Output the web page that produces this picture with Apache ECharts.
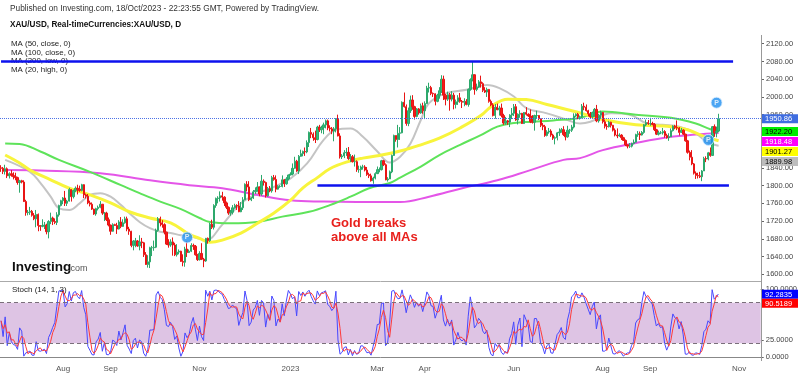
<!DOCTYPE html>
<html>
<head>
<meta charset="utf-8">
<script src="https://cdn.jsdelivr.net/npm/echarts@6/dist/echarts.min.js"></script>
<style>
  html, body { margin: 0; padding: 0; background: #fff; }
  #chart { width: 800px; height: 376px; }
</style>
</head>
<body>
<div id="chart"></div>
<script>
// XAU/USD daily, weekdays from 20 Jun 2022 to 18 Oct 2023 (one line = one week)
const firstOpen = 1840;
const closes = [
  1839,1832,1838,1822,1827, 1823,1820,1818,1807,1811, 1808,1764,1739,1740,1742, 1733,1725,1735,1710,1708,
  1710,1711,1696,1719,1727, 1719,1717,1734,1755,1766, 1772,1760,1765,1791,1775, 1789,1794,1792,1789,1802,
  1779,1776,1761,1758,1747, 1736,1748,1751,1758,1738, 1738,1723,1711,1697,1712, 1710,1702,1718,1708,1716,
  1725,1702,1697,1665,1675, 1675,1664,1673,1671,1644, 1622,1628,1660,1660,1661, 1699,1725,1716,1712,1695,
  1668,1666,1673,1666,1644, 1650,1652,1629,1627,1657, 1649,1652,1665,1663,1644, 1633,1647,1634,1630,1681,
  1676,1713,1706,1755,1771, 1772,1777,1774,1761,1751, 1738,1740,1750,1755,1754, 1741,1750,1768,1803,1797,
  1768,1772,1786,1789,1797, 1781,1810,1807,1777,1793, 1788,1818,1814,1792,1798, 1798,1813,1804,1815,1824,
  1826,1839,1855,1833,1866, 1872,1877,1876,1897,1920, 1916,1908,1904,1932,1926, 1931,1937,1946,1930,1928,
  1923,1928,1950,1912,1865, 1867,1874,1875,1861,1865, 1854,1854,1836,1836,1842, 1842,1835,1825,1822,1811,
  1817,1827,1836,1836,1856, 1847,1813,1815,1831,1868, 1913,1904,1918,1919,1988, 1978,1940,1969,1993,1978,
  1956,1973,1964,1980,1969, 1985,2020,2021,2008,2007, 1990,2004,2014,2040,2004, 1995,2005,1995,2004,1983,
  1989,1998,1990,1988,1990, 1983,2017,2039,2050,2017, 2022,2034,2030,2015,2011, 2017,1990,1982,1958,1977,
  1971,1975,1958,1941,1946, 1943,1959,1963,1978,1948, 1961,1963,1940,1965,1961, 1957,1944,1943,1958,1958,
  1951,1936,1933,1913,1921, 1923,1914,1907,1908,1919, 1921,1926,1915,1910,1925, 1925,1932,1957,1961,1955,
  1955,1979,1977,1969,1962, 1955,1965,1972,1946,1959, 1965,1944,1934,1933,1943, 1936,1925,1914,1912,1914,
  1908,1902,1892,1889,1889, 1895,1898,1915,1917,1914, 1920,1937,1942,1940,1940, 1938,1926,1916,1919,1919,
  1922,1913,1908,1910,1924, 1934,1931,1930,1920,1925, 1916,1901,1875,1864,1849, 1828,1823,1822,1820,1833,
  1861,1860,1874,1868,1933, 1919,1923,1951
];
const lows = [
  1831,1826,1825,1817,1816, 1820,1814,1812,1802,1784, 1805,1763,1732,1733,1734, 1730,1722,1706,1697,1698,
  1706,1702,1690,1681,1713, 1711,1713,1711,1730,1753, 1758,1754,1754,1764,1764, 1771,1785,1780,1786,1787,
  1772,1771,1758,1753,1745, 1734,1732,1744,1749,1734, 1720,1720,1708,1689,1696, 1709,1691,1701,1704,1707,
  1714,1697,1689,1661,1654, 1661,1662,1654,1659,1639, 1621,1615,1614,1641,1653, 1659,1696,1708,1705,1690,
  1666,1660,1662,1642,1641, 1640,1645,1628,1618,1617, 1639,1648,1650,1655,1642, 1630,1631,1632,1616,1628,
  1669,1673,1702,1701,1750, 1760,1764,1766,1754,1747, 1734,1732,1735,1748,1745, 1740,1740,1745,1767,1787,
  1765,1765,1770,1781,1786, 1776,1777,1800,1773,1775, 1785,1784,1811,1785,1791, 1795,1796,1797,1802,1812,
  1823,1823,1838,1831,1826, 1865,1866,1867,1873,1887, 1907,1901,1896,1902,1921, 1918,1916,1929,1925,1922,
  1916,1900,1920,1911,1861, 1860,1862,1867,1858,1853, 1852,1843,1831,1829,1819, 1836,1832,1822,1817,1809,
  1804,1814,1826,1830,1834, 1844,1812,1809,1815,1828, 1867,1899,1886,1903,1918, 1976,1935,1934,1964,1971,
  1949,1954,1960,1962,1962, 1950,1984,2010,2004,2000, 1981,1988,1996,2009,1993, 1981,1991,1969,1990,1972,
  1974,1982,1987,1975,1979, 1981,1978,2014,2035,2005, 2013,2020,2021,2011,2009, 2000,1987,1979,1956,1951,
  1970,1958,1954,1937,1937, 1937,1932,1950,1957,1946, 1938,1953,1939,1939,1958, 1955,1941,1940,1924,1951,
  1948,1932,1925,1910,1911, 1917,1910,1903,1893,1902, 1912,1920,1912,1902,1908, 1917,1921,1929,1955,1950,
  1949,1952,1970,1967,1956, 1951,1953,1955,1943,1942, 1951,1940,1929,1926,1931, 1931,1922,1911,1907,1910,
  1903,1901,1889,1884,1885, 1886,1893,1897,1910,1903, 1913,1917,1934,1937,1935, 1936,1923,1914,1913,1916,
  1915,1908,1906,1901,1910, 1922,1927,1925,1913,1919, 1914,1899,1872,1857,1846, 1825,1815,1816,1817,1810,
  1833,1853,1857,1865,1867, 1910,1909,1921
];
const highs = [
  1846,1842,1847,1841,1830, 1835,1830,1829,1820,1813, 1813,1812,1768,1745,1752, 1745,1738,1745,1737,1711,
  1724,1718,1714,1722,1739, 1730,1726,1740,1757,1768, 1774,1788,1768,1795,1792, 1791,1798,1802,1800,1804,
  1803,1782,1781,1766,1762, 1748,1750,1755,1765,1758, 1740,1741,1728,1712,1715, 1714,1716,1722,1729,1724,
  1730,1730,1707,1698,1677, 1682,1677,1688,1682,1673, 1650,1643,1662,1664,1676, 1703,1729,1730,1722,1715,
  1696,1679,1679,1683,1671, 1668,1656,1653,1645,1662, 1674,1656,1670,1669,1666, 1646,1652,1670,1637,1682,
  1683,1716,1723,1758,1773, 1776,1787,1786,1776,1764, 1753,1745,1756,1759,1758, 1765,1763,1774,1805,1810,
  1810,1774,1790,1796,1808, 1798,1824,1814,1809,1797, 1799,1822,1824,1823,1801, 1801,1823,1815,1819,1825,
  1830,1850,1865,1858,1869, 1881,1879,1886,1902,1922, 1930,1920,1924,1935,1937, 1935,1942,1949,1949,1936,
  1932,1932,1952,1960,1918, 1871,1880,1885,1887,1871, 1869,1870,1857,1845,1845, 1847,1846,1842,1829,1827,
  1820,1830,1843,1841,1858, 1858,1850,1819,1834,1870, 1915,1913,1937,1932,1990, 2010,1983,1976,2003,2004,
  1980,1975,1975,1985,1987, 1990,2025,2032,2025,2010, 2008,2007,2022,2049,2048, 2007,2012,2009,2013,2009,
  1994,2004,2009,1993,1997, 1995,2019,2042,2081,2051, 2030,2038,2048,2033,2022, 2021,2018,1994,1986,1984,
  1985,1980,1985,1962,1955, 1948,1961,1975,1984,1984, 1963,1970,1964,1966,1977, 1963,1972,1959,1960,1969,
  1959,1952,1941,1937,1925, 1930,1927,1917,1911,1921, 1929,1930,1934,1921,1935, 1928,1937,1963,1963,1964,
  1958,1984,1987,1983,1971, 1966,1967,1975,1982,1962, 1969,1966,1949,1939,1946, 1944,1937,1929,1929,1918,
  1916,1910,1904,1892,1896, 1897,1904,1917,1923,1922, 1923,1939,1949,1948,1953, 1944,1941,1928,1924,1923,
  1930,1925,1917,1918,1929, 1936,1937,1947,1932,1930, 1927,1917,1903,1879,1880, 1851,1832,1829,1831,1835,
  1865,1866,1876,1886,1934, 1938,1933,1962
];

// moving averages: [day index, value]
const ma20High = [[2,1858],[14,1831],[19,1806],[24,1775],[28,1749],[33,1745],[38,1760],[43,1779],[48,1783],[53,1775],
  [58,1756],[62,1738],[67,1718],[72,1704],[77,1696],[82,1693],[87,1688],[92,1685],[99,1677],[107,1712],[116,1760],
  [124,1782],[132,1797],[140,1816],[148,1850],[156,1903],[162,1926],[169,1929],[175,1910],[182,1877],[188,1852],
  [193,1865],[198,1895],[203,1948],[207,1986],[215,2008],[225,2016],[235,2027],[241,2020],[248,2001],[254,1975],
  [264,1963],[274,1948],[280,1940],[285,1944],[295,1963],[304,1960],[312,1941],[320,1937],[328,1933],[336,1918],
  [341,1899],[345,1892],[347,1889.98]];
const ma50Close = [[2,1869],[9,1851],[14,1835],[24,1813],[33,1794],[43,1779],[53,1761],[62,1741],[72,1727],[82,1716],
  [91,1690],[96,1681],[101,1672],[107,1677],[116,1693],[124,1715],[132,1738],[140,1767],[146,1795],[153,1818],
  [159,1838],[167,1853],[175,1862],[183,1868],[193,1878],[203,1892],[212,1907],[222,1930],[232,1958],[238,1982],
  [245,1995],[254,1994],[264,1983],[274,1971],[280,1964],[291,1949],[307,1937],[324,1933],[332,1926],[340,1911],
  [347,1901.27]];
const ma100Close = [[2,1895],[9,1894],[19,1877],[28,1858],[43,1831],[58,1801],[67,1783],[77,1764],[87,1747],[96,1727],
  [101,1718],[111,1715],[124,1718],[136,1730],[149,1741],[159,1756],[169,1775],[178,1794],[188,1806],[193,1818],
  [203,1843],[212,1869],[222,1892],[232,1914],[240,1933],[248,1941],[257,1944],[267,1947],[280,1953],[291,1967],
  [307,1960],[324,1953],[336,1940],[343,1927],[347,1922.2]];
const ma200Low = [[2,1835],[19,1834],[48,1828],[72,1812],[91,1801],[107,1794],[124,1779],[140,1767],[156,1764],[172,1763],
  [193,1763],[207,1775],[223,1794],[240,1812],[256,1835],[272,1858],[280,1862],[291,1880],[307,1896],[324,1910],
  [336,1915],[347,1918.48]];

// horizontal levels: [from day, to day, price]
const levelLines = [[0, 354, 2080], [153, 352, 1800]];
const lastPrice = 1950.86;
const pMarks = [[90, 1683], [342, 1903], [346, 1987]];

const priceTicks = [1600,1640,1680,1720,1760,1800,1840,1880,1920,1960,2000,2040,2080,2120];
const stochTicks = [0, 25, 100];
const tickDates = ['2022-08-01','2022-09-01','2022-11-01','2023-01-02','2023-03-01','2023-04-03','2023-06-01','2023-08-01','2023-09-01','2023-11-01'];
const tickLabels = ['Aug','Sep','Nov','2023','Mar','Apr','Jun','Aug','Sep','Nov'];

const maTags = [
  { v: 1922.20, bg: '#00ee00', fg: '#000' },
  { v: 1918.48, bg: '#ff00ff', fg: '#fff' },
  { v: 1901.27, bg: '#ffff00', fg: '#000' },
  { v: 1889.98, bg: '#bdbdbd', fg: '#000' }
];
const stochTags = [
  { v: 92.2835, bg: '#0000ff', fg: '#fff' },
  { v: 90.5189, bg: '#ff0000', fg: '#fff' }
];

// weekday categories, with room after the last candle
const cats = [];
const day = new Date(Date.UTC(2022, 5, 20));
while (cats.length < 368) {
  const wd = day.getUTCDay();
  if (wd !== 0 && wd !== 6) cats.push(day.toISOString().slice(0, 10));
  day.setUTCDate(day.getUTCDate() + 1);
}

const ohlc = closes.map((c, i) => [i ? closes[i - 1] : firstOpen, c, lows[i], highs[i]]);

// Stoch (14, 1, 3)
const kLine = closes.map((c, i) => {
  const from = Math.max(0, i - 13);
  const hh = Math.max(...highs.slice(from, i + 1));
  const ll = Math.min(...lows.slice(from, i + 1));
  return +(100 * (c - ll) / (hh - ll)).toFixed(2);
});
const dLine = kLine.map((k, i) => {
  const part = kLine.slice(Math.max(0, i - 2), i + 1);
  return +(part.reduce((a, b) => a + b, 0) / part.length).toFixed(2);
});

const FONT = 'Liberation Sans, Arial, sans-serif';
const chart = echarts.init(document.getElementById('chart'));

const option = {
  animation: false,
  backgroundColor: '#fff',
  grid: [
    { left: 0, right: 39, top: 26, height: 266 },
    { left: 0, right: 39, top: 281, height: 80 }
  ],
  xAxis: [
    { type: 'category', gridIndex: 0, data: cats, show: false, boundaryGap: true },
    {
      type: 'category', gridIndex: 1, data: cats, boundaryGap: true,
      axisLine: { lineStyle: { color: '#888' } },
      axisTick: { length: 3, lineStyle: { color: '#888' }, interval: (i, v) => tickDates.includes(v) },
      axisLabel: {
        interval: (i, v) => tickDates.includes(v),
        formatter: v => tickLabels[tickDates.indexOf(v)],
        color: '#555', fontSize: 8, fontFamily: FONT, margin: 4
      },
      splitLine: { show: false }
    }
  ],
  yAxis: [
    {
      type: 'value', gridIndex: 0, position: 'right', min: 1560, max: 2160,
      axisLine: { show: false },
      axisTick: { show: true, length: 3, lineStyle: { color: '#666' }, customValues: priceTicks },
      axisLabel: { customValues: priceTicks, formatter: v => v.toFixed(2), color: '#444', fontSize: 7.5, fontFamily: FONT, margin: 5 },
      splitLine: { show: false }
    },
    {
      type: 'value', gridIndex: 1, position: 'right', min: -6, max: 112,
      axisLine: { show: false },
      axisTick: { show: true, length: 3, lineStyle: { color: '#666' }, customValues: stochTicks },
      axisLabel: { customValues: stochTicks, formatter: v => v.toFixed(4), color: '#444', fontSize: 7.5, fontFamily: FONT, margin: 5 },
      splitLine: { show: false }
    }
  ],
  series: [
    { name: 'MA20', type: 'line', data: ma20High, smooth: 0.4, showSymbol: false, z: 2,
      lineStyle: { color: '#c4c4c4', width: 2 } },
    { name: 'MA200', type: 'line', data: ma200Low, smooth: 0.4, showSymbol: false, z: 2,
      lineStyle: { color: '#e455e8', width: 2 } },
    { name: 'MA100', type: 'line', data: ma100Close, smooth: 0.4, showSymbol: false, z: 2,
      lineStyle: { color: '#5ee35a', width: 2 } },
    { name: 'MA50', type: 'line', data: ma50Close, smooth: 0.4, showSymbol: false, z: 2,
      lineStyle: { color: '#f8f43c', width: 3 } },
    {
      name: 'XAU/USD', type: 'candlestick', data: ohlc, barWidth: 1.8, z: 3,
      itemStyle: { color: '#33c07c', color0: '#f51a1a', borderColor: '#2da86c', borderColor0: '#e81414', borderWidth: 1 },
      markLine: {
        silent: true, symbol: 'none', label: { show: false },
        data: [
          { yAxis: lastPrice, lineStyle: { type: 'dotted', color: '#4c72e6', width: 1 } },
          ...levelLines.map(([a, b, p]) => [
            { coord: [a, p], lineStyle: { type: 'solid', color: '#0d12ee', width: 2.5 } },
            { coord: [b, p] }
          ])
        ]
      }
    },
    {
      name: 'P', type: 'scatter', data: pMarks, symbolSize: 11, z: 5,
      itemStyle: { color: '#1e8ef0', borderColor: '#d8ecff', borderWidth: 1 },
      label: { show: true, position: 'inside', formatter: 'P', color: '#fff', fontSize: 7, fontWeight: 'bold', fontFamily: FONT }
    },
    {
      name: '%K', type: 'line', xAxisIndex: 1, yAxisIndex: 1, data: kLine, showSymbol: false, z: 3,
      lineStyle: { color: '#4848ff', width: 1 },
      markArea: { silent: true, itemStyle: { color: '#dec4e4' }, data: [[{ yAxis: 20 }, { yAxis: 80 }]] },
      markLine: {
        silent: true, symbol: 'none', label: { show: false },
        lineStyle: { type: [4, 3], color: '#7a6f7a', width: 1 },
        data: [{ yAxis: 20 }, { yAxis: 80 }]
      }
    },
    {
      name: '%D', type: 'line', xAxisIndex: 1, yAxisIndex: 1, data: dLine, showSymbol: false, z: 4,
      lineStyle: { color: '#ff3a3a', width: 1 }
    }
  ]
};
chart.setOption(option);

// texts and decorations
const staticGraphics = [
  { type: 'text', left: 10, top: 5, style: { text: 'Published on Investing.com, 18/Oct/2023 - 22:23:55 GMT, Powered by TradingView.', fill: '#333', font: '8.3px ' + FONT } },
  { type: 'text', left: 10, top: 21, style: { text: 'XAU/USD, Real-timeCurrencies:XAU/USD, D', fill: '#111', font: 'bold 8.2px ' + FONT } },
  { type: 'text', left: 11, top: 40, style: { text: 'MA (50, close, 0)', fill: '#222', font: '7.9px ' + FONT } },
  { type: 'text', left: 11, top: 48.5, style: { text: 'MA (100, close, 0)', fill: '#222', font: '7.9px ' + FONT } },
  { type: 'text', left: 11, top: 57, style: { text: 'MA (200, low, 0)', fill: '#222', font: '7.9px ' + FONT } },
  { type: 'text', left: 11, top: 65.5, style: { text: 'MA (20, high, 0)', fill: '#222', font: '7.9px ' + FONT } },
  { type: 'text', left: 331, top: 216, z: 20, style: { text: 'Gold breaks\nabove all MAs', fill: '#e8201c', font: 'bold 13px ' + FONT, lineHeight: 14.5 } },
  { type: 'text', left: 12, top: 260, z: 20, style: { text: 'Investing', fill: '#111', font: 'bold 13.5px ' + FONT } },
  { type: 'text', left: 68, top: 264, z: 20, style: { text: '.com', fill: '#555', font: '9px ' + FONT } },
  { type: 'text', left: 12, top: 286, z: 20, style: { text: 'Stoch (14, 1, 3)', fill: '#222', font: '8px ' + FONT } },
  { type: 'line', z: 20, shape: { x1: 0, y1: 281.5, x2: 761, y2: 281.5 }, style: { stroke: '#aaa', lineWidth: 1 } },
  { type: 'line', z: 20, shape: { x1: 761.5, y1: 35, x2: 761.5, y2: 361 }, style: { stroke: '#999', lineWidth: 1 } }
];

// value tags on the right price scales, stacked so they do not overlap
function tag(y, text, bg, fg) {
  return {
    type: 'group', x: 762, y: y - 4.5, z: 30,
    children: [
      { type: 'rect', z: 30, shape: { x: 0, y: 0, width: 36, height: 9 }, style: { fill: bg } },
      { type: 'text', z: 31, style: { x: 3, y: 1.2, text: text, fill: fg, font: '7.5px ' + FONT } }
    ]
  };
}
const tags = [];
let prevY = chart.convertToPixel({ yAxisIndex: 0 }, lastPrice);
tags.push(tag(prevY, lastPrice.toFixed(2), '#3f6de0', '#fff'));
maTags.forEach(t => {
  const y = Math.max(chart.convertToPixel({ yAxisIndex: 0 }, t.v), prevY + 10);
  tags.push(tag(y, t.v.toFixed(2), t.bg, t.fg));
  prevY = y;
});
prevY = -100;
stochTags.forEach(t => {
  const y = Math.max(chart.convertToPixel({ yAxisIndex: 1 }, t.v), prevY + 9);
  tags.push(tag(y, t.v.toFixed(4), t.bg, t.fg));
  prevY = y;
});
chart.setOption({ graphic: staticGraphics.concat(tags) });
</script>
</body>
</html>
